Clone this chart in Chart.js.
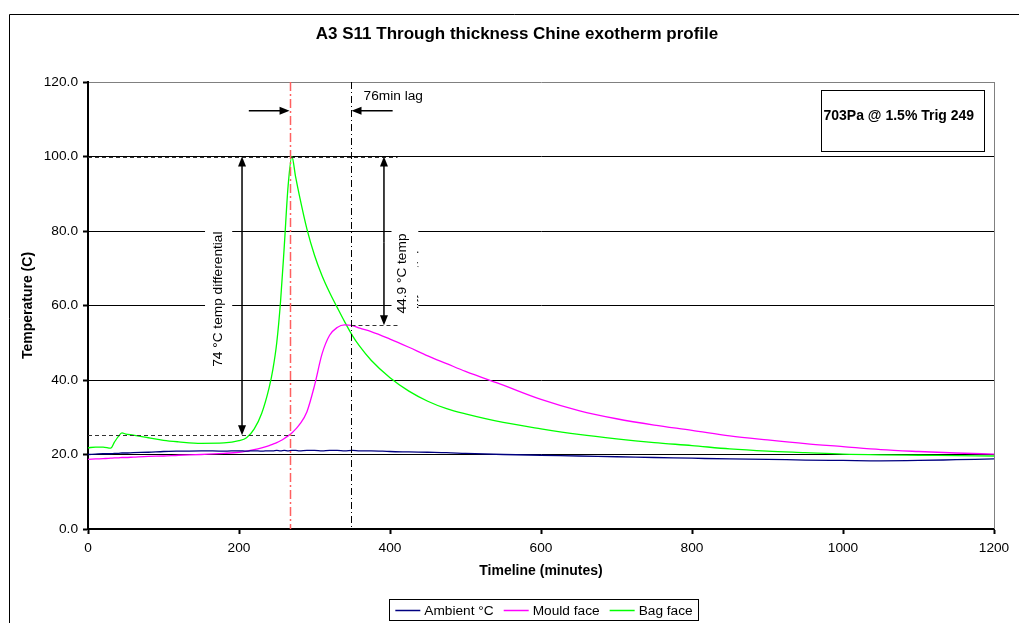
<!DOCTYPE html>
<html>
<head>
<meta charset="utf-8">
<script src="https://cdn.jsdelivr.net/npm/chart.js@4/dist/chart.umd.min.js"></script>
<style>
  html, body { margin: 0; padding: 0; background: #fff; }
  #wrap { position: relative; width: 1019px; height: 623px; }
</style>
</head>
<body>
<div id="wrap"><canvas id="chart" width="1019" height="623"></canvas></div>
<script>
// Timeline (minutes) and the three thermocouple traces
const timeline = [0, 10, 20, 30, 35, 40, 45, 50, 60, 80,
  100, 120, 150, 180, 200, 210, 220, 230, 240, 245,
  250, 255, 260, 265, 270, 275, 280, 290, 300, 310,
  320, 330, 340, 350, 360, 375, 400, 425, 450, 475,
  500, 550, 600, 650, 700, 750, 800, 850, 900, 950,
  1000, 1050, 1100, 1150, 1200];

const ambient = [20.0, 20.1, 20.2, 20.2, 20.3, 20.3, 20.4, 20.4, 20.5, 20.6,
  20.8, 20.9, 21.0, 20.9, 21.0, 20.9, 21.0, 20.9, 21.0, 21.0,
  21.1, 21.0, 21.1, 21.0, 21.1, 21.1, 21.0, 21.1, 21.1, 21.0,
  21.1, 21.1, 21.0, 21.1, 21.0, 21.0, 20.8, 20.7, 20.6, 20.5,
  20.3, 20.0, 19.8, 19.6, 19.4, 19.2, 19.0, 18.8, 18.7, 18.5,
  18.4, 18.3, 18.4, 18.6, 18.8];

const mouldFace = [18.7, 18.8, 18.9, 19.0, 19.1, 19.1, 19.2, 19.2, 19.3, 19.5,
  19.6, 19.8, 20.0, 20.3, 20.6, 20.9, 21.3, 21.8, 22.4, 22.8,
  23.2, 23.7, 24.3, 25.0, 25.8, 26.8, 28.0, 31.5, 38.5, 47.0,
  52.0, 54.1, 54.8, 54.6, 53.9, 53.0, 51.0, 48.8, 46.5, 44.4,
  42.3, 38.6, 34.8, 31.8, 29.6, 27.9, 26.5, 25.0, 23.9, 22.9,
  22.1, 21.3, 20.8, 20.4, 20.1];

const bagFace = [21.8, 22.0, 22.0, 21.7, 23.3, 24.8, 25.8, 25.5, 25.2, 24.5,
  23.8, 23.4, 23.0, 23.1, 23.7, 24.5, 26.8, 31.0, 38.0, 43.0,
  50.0, 61.0, 76.0, 92.0, 100.0, 94.5, 89.5, 80.5, 73.5, 68.0,
  63.5, 59.5, 55.6, 52.0, 49.0, 45.3, 40.6, 37.0, 34.3, 32.3,
  30.9, 28.6, 26.9, 25.4, 24.2, 23.2, 22.4, 21.5, 20.9, 20.5,
  20.1, 19.9, 19.8, 19.7, 19.6];

const seriesNames = ["Ambient °C", "Mould face", "Bag face"];
const seriesColors = ["#000080", "#FF00FF", "#00FF00"];

// annotation values (data units)
const bagStart = 25.2;
const bagPeak = 100;
const mouldPeak = 54.7;
const tBagPeak = 267;
const tMouldPeak = 349;

const FONT = '"Liberation Sans", Arial, sans-serif';

function pts(arr) {
  return timeline.map((t, i) => ({ x: t, y: arr[i] }));
}

function arrow(ctx, x1, y1, x2, y2) {
  const ang = Math.atan2(y2 - y1, x2 - x1);
  const len = 10, w = 4;
  ctx.beginPath();
  ctx.moveTo(x1, y1);
  ctx.lineTo(x2 - Math.cos(ang) * len * 0.8, y2 - Math.sin(ang) * len * 0.8);
  ctx.stroke();
  ctx.beginPath();
  ctx.moveTo(x2, y2);
  ctx.lineTo(x2 - Math.cos(ang) * len - Math.sin(ang) * w, y2 - Math.sin(ang) * len + Math.cos(ang) * w);
  ctx.lineTo(x2 - Math.cos(ang) * len + Math.sin(ang) * w, y2 - Math.sin(ang) * len - Math.cos(ang) * w);
  ctx.closePath();
  ctx.fill();
}

const overlay = {
  id: "overlay",
  beforeDatasetsDraw(chart) {
    const { ctx, chartArea: a } = chart;
    ctx.save();
    ctx.strokeStyle = "#808080";
    ctx.lineWidth = 1;
    ctx.beginPath();
    ctx.moveTo(Math.round(a.right) + 0.5, a.top);
    ctx.lineTo(Math.round(a.right) + 0.5, a.bottom);
    ctx.stroke();
    ctx.restore();
  },
  afterDatasetsDraw(chart) {
    const { ctx, scales: { x, y } } = chart;
    const X = (v) => x.getPixelForValue(v);
    const Y = (v) => y.getPixelForValue(v);
    ctx.save();

    // dashed reference levels
    ctx.strokeStyle = "#333";
    ctx.lineWidth = 1;
    ctx.setLineDash([4, 3]);
    [[0, 410, bagPeak], [0, 277, bagStart], [tMouldPeak, 410, mouldPeak]].forEach(([a, b, v]) => {
      ctx.beginPath();
      ctx.moveTo(X(a), Math.round(Y(v)) + 0.5);
      ctx.lineTo(X(b), Math.round(Y(v)) + 0.5);
      ctx.stroke();
    });

    // peak markers
    ctx.strokeStyle = "#FF6060";
    ctx.lineWidth = 1.5;
    ctx.setLineDash([9, 3, 2, 3]);
    ctx.beginPath();
    ctx.moveTo(Math.round(X(tBagPeak)) + 0.5, Y(120));
    ctx.lineTo(Math.round(X(tBagPeak)) + 0.5, Y(0));
    ctx.stroke();
    ctx.strokeStyle = "#000";
    ctx.lineWidth = 1;
    ctx.setLineDash([7, 3, 1, 3]);
    ctx.beginPath();
    ctx.moveTo(Math.round(X(tMouldPeak)) + 0.5, Y(120));
    ctx.lineTo(Math.round(X(tMouldPeak)) + 0.5, Y(0));
    ctx.stroke();
    ctx.setLineDash([]);

    // arrows
    ctx.strokeStyle = "#000";
    ctx.fillStyle = "#000";
    ctx.lineWidth = 1.5;
    const xa = X(204), xb = X(392);
    arrow(ctx, xa, Y(62), xa, Y(bagPeak));
    arrow(ctx, xa, Y(62), xa, Y(bagStart));
    arrow(ctx, xb, Y(77), xb, Y(bagPeak));
    arrow(ctx, xb, Y(77), xb, Y(mouldPeak));
    arrow(ctx, X(213), Y(112.3), X(tBagPeak), Y(112.3));
    arrow(ctx, X(403.5), Y(112.3), X(tMouldPeak), Y(112.3));

    // rotated labels on white boxes
    ctx.font = "13.7px " + FONT;
    ctx.textBaseline = "middle";
    ctx.textAlign = "center";
    const bx1 = X(155), bx2 = X(191);
    ctx.fillStyle = "#fff";
    ctx.fillRect(bx1, Y(81.5), bx2 - bx1, Y(42.5) - Y(81.5));
    ctx.fillStyle = "#000";
    ctx.save();
    ctx.translate(X(172.8), Y(61.7));
    ctx.rotate(-Math.PI / 2);
    ctx.fillText("74 °C temp differential", 0, 0);
    ctx.restore();

    const cx1 = X(402), cx2 = X(437.5);
    ctx.fillStyle = "#fff";
    ctx.fillRect(cx1, Y(81.5), cx2 - cx1, Y(56.5) - Y(81.5));
    ctx.save();
    ctx.beginPath();
    ctx.rect(cx1, Y(81.5), cx2 - cx1, Y(56.5) - Y(81.5));
    ctx.clip();
    ctx.fillStyle = "#000";
    ctx.translate(X(416), Y(73.5));
    ctx.rotate(-Math.PI / 2);
    ctx.textAlign = "left";
    const start = -(Y(56.5) - Y(73.5)) + 5;
    ctx.fillText("44.9 °C temp", start, 0);
    ctx.fillText("differential", start, 20);
    ctx.restore();

    ctx.textAlign = "left";
    ctx.fillStyle = "#000";
    ctx.fillText("76min lag", X(365), Y(116.3));

    // settings box
    const rx1 = Math.round(X(970.5)) + 0.5, rx2 = Math.round(X(1186.8)) + 0.5;
    const ry1 = Math.round(Y(117.9)) + 0.5, ry2 = Math.round(Y(101.6)) + 0.5;
    ctx.fillStyle = "#fff";
    ctx.fillRect(rx1, ry1, rx2 - rx1, ry2 - ry1);
    ctx.strokeStyle = "#000";
    ctx.lineWidth = 1;
    ctx.strokeRect(rx1, ry1, rx2 - rx1, ry2 - ry1);
    ctx.fillStyle = "#000";
    ctx.font = "bold 14px " + FONT;
    ctx.fillText("703Pa @ 1.5% Trig 249", rx1 + 2, ry1 + 26);
    ctx.restore();
  },
  afterDraw(chart) {
    const { ctx } = chart;
    ctx.save();
    // outer frame
    ctx.strokeStyle = "#000";
    ctx.lineWidth = 1;
    ctx.beginPath();
    ctx.moveTo(9.5, 623);
    ctx.lineTo(9.5, 14.5);
    ctx.lineTo(1019, 14.5);
    ctx.stroke();

    // title
    ctx.fillStyle = "#000";
    ctx.font = "bold 17px " + FONT;
    ctx.textAlign = "center";
    ctx.textBaseline = "middle";
    ctx.fillText("A3 S11 Through thickness Chine exotherm profile", 517, 34);

    // legend
    ctx.font = "13.7px " + FONT;
    ctx.textAlign = "left";
    const lineW = 25, gap1 = 4, gap2 = 10;
    const widths = seriesNames.map((n) => ctx.measureText(n).width);
    const total = widths.reduce((s, w) => s + lineW + gap1 + w, 0) + gap2 * (seriesNames.length - 1);
    let lx = 544 - total / 2;
    const ly = 610.5;
    ctx.strokeStyle = "#000";
    ctx.strokeRect(Math.round(lx - 6) + 0.5, 599.5, Math.round(total + 12), 21);
    seriesNames.forEach((n, i) => {
      ctx.strokeStyle = seriesColors[i];
      ctx.lineWidth = 1.5;
      ctx.beginPath();
      ctx.moveTo(lx, ly);
      ctx.lineTo(lx + lineW, ly);
      ctx.stroke();
      ctx.fillText(n, lx + lineW + gap1, ly + 0.5);
      lx += lineW + gap1 + widths[i] + gap2;
    });
    ctx.restore();
  },
};

const datasets = [ambient, mouldFace, bagFace].map((arr, i) => ({
  label: seriesNames[i],
  data: pts(arr),
  borderColor: seriesColors[i],
  backgroundColor: seriesColors[i],
  borderWidth: 1.3,
  pointRadius: 0,
  fill: false,
  cubicInterpolationMode: "monotone",
}));

new Chart(document.getElementById("chart"), {
  type: "line",
  data: { datasets },
  plugins: [overlay],
  options: {
    responsive: false,
    animation: false,
    devicePixelRatio: 1,
    layout: { padding: { left: 10, right: 25, top: 82, bottom: 43 } },
    plugins: { legend: { display: false }, title: { display: false }, tooltip: { enabled: false } },
    scales: {
      x: {
        type: "linear",
        min: 0,
        max: 1200,
        ticks: { stepSize: 200, color: "#000", font: { family: FONT, size: 13.7 }, padding: 6, maxRotation: 0, callback: (v) => String(v) },
        grid: { drawOnChartArea: false, drawTicks: true, tickLength: 5, tickColor: "#000", tickWidth: 2 },
        border: { display: true, color: "#000", width: 2 },
        title: { display: true, text: "Timeline (minutes)", color: "#000", font: { family: FONT, size: 14, weight: "bold" }, padding: { top: 0, bottom: 0 } },
        afterFit: (s) => { s.height = 51; },
      },
      y: {
        min: 0,
        max: 120,
        ticks: { stepSize: 20, color: "#000", font: { family: FONT, size: 13.7 }, padding: 5, callback: (v) => Number(v).toFixed(1) },
        grid: {
          color: (c) => (c.tick && c.tick.value === 120 ? "#808080" : "#000"),
          lineWidth: 1,
          tickLength: 5,
          tickColor: "#000",
          tickWidth: 2,
        },
        border: { display: true, color: "#000", width: 2 },
        title: { display: true, text: "Temperature (C)", color: "#000", font: { family: FONT, size: 14, weight: "bold" }, padding: { top: 10, bottom: 0 } },
        afterFit: (s) => { s.width = 78; },
      },
    },
  },
});
</script>
</body>
</html>
